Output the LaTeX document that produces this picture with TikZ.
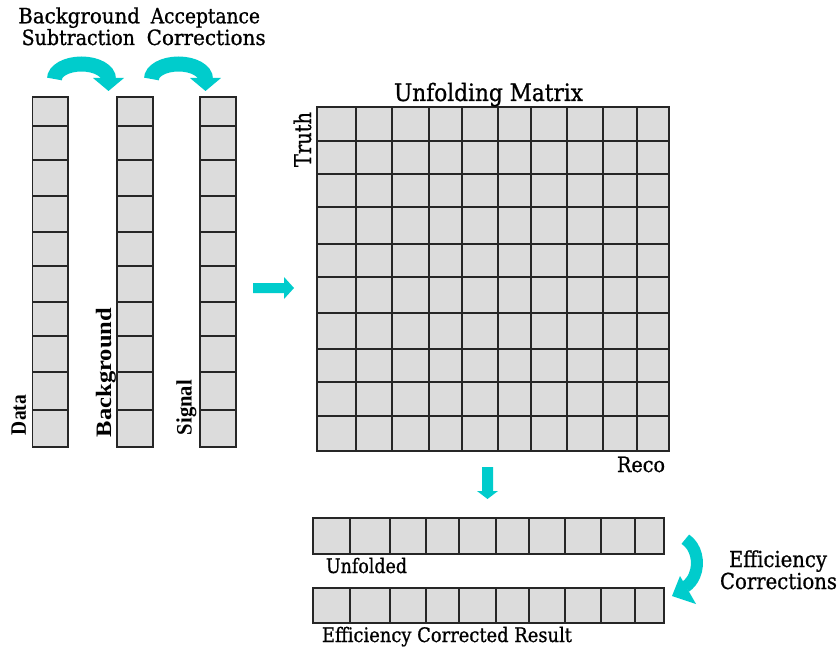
\documentclass[tikz,border=0pt]{standalone}
\usepackage{fontspec}
\setmainfont{DejaVu Serif}
\newfontfamily\tfont{DejaVu Serif}[FakeBold=0.9]
\newfontfamily\labfont{Liberation Serif}
\usepackage{graphicx}
\definecolor{arrowc}{RGB}{0,204,204}
\definecolor{cellc}{RGB}{220,220,220}
\newcommand\fitw[3]{\resizebox{#1pt}{\height}{\tfont\fontsize{#2}{#2}\selectfont #3}}
\newcommand\fitl[3]{\resizebox{#1pt}{\height}{\labfont\bfseries\fontsize{#2}{#2}\selectfont #3}}
\begin{document}
\begin{tikzpicture}[x=1pt,y=-1pt,
  txt/.style={inner sep=0pt, outer sep=0pt, anchor=base west},
  rtxt/.style={inner sep=0pt, outer sep=0pt, anchor=base west, rotate=90},
  grid/.style={draw=black!85, line width=1.1pt},
  cellfill/.style={fill=cellc},
  blockarrow/.style={fill=arrowc},
  band/.style={draw=arrowc, line width=#1}]
\useasboundingbox (0,0) rectangle (839,650);
\fill[white] (0,0) rectangle (839,650);

% vertical columns
\foreach \xa/\xb in {32.5/68, 117/153, 200/236} {
  \fill[cellfill] (\xa,97) rectangle (\xb,447);
  \foreach \y in {126,160,196,232,266,302,336,372,410}
    \draw[grid] (\xa,\y) -- (\xb,\y);
  \draw[grid] (\xa,97) rectangle (\xb,447);
}

% matrix
\fill[cellfill] (317,107) rectangle (669,451);
\foreach \x in {356,392,429,462,498,531,567,603,637}
  \draw[grid] (\x,107) -- (\x,451);
\foreach \y in {141,174,207,244,277,313,349,382,416}
  \draw[grid] (317,\y) -- (669,\y);
\draw[grid] (317,107) rectangle (669,451);

% result vectors
\foreach \ya/\yb in {518/554, 588/623} {
  \fill[cellfill] (313,\ya) rectangle (664,\yb);
  \foreach \x in {350,390,426,459,496,529,565,601,635}
    \draw[grid] (\x,\ya) -- (\x,\yb);
  \draw[grid] (313,\ya) rectangle (664,\yb);
}

% curved arrows at top
\foreach \cx in {81.5, 178.5} {
  \draw[band=15pt] ({\cx-27},79) arc[start angle=180, end angle=360, x radius=27, y radius=15];
  \fill[blockarrow] ({\cx+11.5},78) -- ({\cx+42.5},78) -- ({\cx+27},91) -- cycle;
}

% straight arrows
\fill[blockarrow] (253,283) -- (284,283) -- (284,277) -- (294,288) -- (284,299) -- (284,293) -- (253,293) -- cycle;
\fill[blockarrow] (482,467) -- (493,467) -- (493,491) -- (498,491) -- (487.5,499) -- (477,491) -- (482,491) -- cycle;

% efficiency arrow
\draw[band=12pt] (685.3,539.2) arc[start angle=-62, end angle=62, x radius=22, y radius=27];
\fill[blockarrow] (680,576) -- (696,604) -- (672,596) -- cycle;

% texts
\node[txt] (t1) at (18.3,23.3) {\fitw{121.7}{21}{Background}};
\node[txt] (t2) at (21.7,45) {\fitw{113.3}{21}{Subtraction}};
\node[txt] (t3) at (150.7,23.3) {\fitw{109.3}{21}{Acceptance}};
\node[txt] (t4) at (146.7,45) {\fitw{119}{21}{Corrections}};
\node[txt] (um) at (394,101) {\fitw{189}{24}{Unfolding Matrix}};
\node[rtxt] (truth) at (311,167) {\fitw{55}{23}{Truth}};
\node[txt] (reco) at (617,472) {\fitw{48}{21}{Reco}};
\node[txt] (unf) at (326,573) {\fitw{81}{20}{Unfolded}};
\node[txt] (ecr) at (322,642) {\fitw{250}{20}{Efficiency Corrected Result}};
\node[txt] (eff1) at (729,567) {\fitw{98}{22}{Efficiency}};
\node[txt] (eff2) at (720,589) {\fitw{117}{22}{Corrections}};
\node[rtxt] (data) at (26,435) {\fitl{40}{22}{Data}};
\node[rtxt] (bkg) at (111,437) {\fitl{129}{22}{Background}};
\node[rtxt] (sig) at (191.5,435) {\fitl{55}{22}{Signal}};
\end{tikzpicture}
\end{document}
